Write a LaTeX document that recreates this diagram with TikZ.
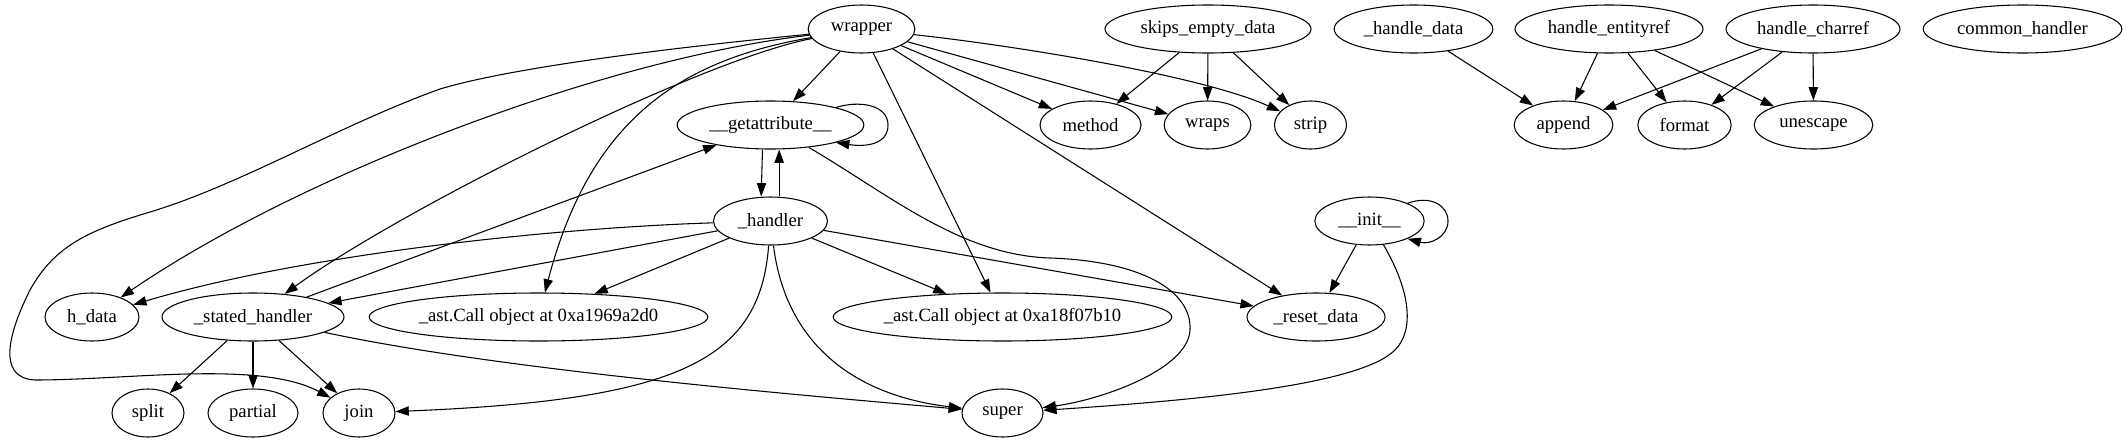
\documentclass[tikz,border=0pt]{standalone}
\usepackage{fontspec}
\setmainfont{Liberation Serif}
\usetikzlibrary{arrows.meta,shapes.geometric}
\begin{document}
\begin{tikzpicture}[x=0.75pt,y=-0.75pt,
  gnode/.style={ellipse,draw,line width=0.8pt,minimum height=36pt,inner sep=0pt,font=\fontsize{14}{16}\selectfont},
  edge/.style={-{Triangle[length=10pt,width=7pt]},line width=0.8pt}]
\useasboundingbox (0,0) rectangle (2127,443);
% row 1
\node[gnode,minimum width=80pt] (wr) at (861.5,29) {wrapper};
\node[gnode,minimum width=154.5pt] (sk) at (1208,29) {skips\_empty\_data};
\node[gnode,minimum width=119pt] (hdd) at (1413.5,29) {\_handle\_data};
\node[gnode,minimum width=141pt] (he) at (1609,29) {handle\_entityref};
\node[gnode,minimum width=130.5pt] (hc) at (1813,29) {handle\_charref};
\node[gnode,minimum width=149pt] (ch) at (2022.5,29) {common\_handler};
% row 2
\node[gnode,minimum width=140pt] (ga) at (770.5,125) {\_\_getattribute\_\_};
\node[gnode,minimum width=75.75pt] (me) at (1090.5,125) {method};
\node[gnode,minimum width=65pt] (wp) at (1207.5,125) {wraps};
\node[gnode,minimum width=54pt] (st) at (1310.5,125) {strip};
\node[gnode,minimum width=74pt] (ap) at (1563.5,125) {append};
\node[gnode,minimum width=70pt] (fo) at (1684.5,125) {format};
\node[gnode,minimum width=89pt] (un) at (1813.5,125) {unescape};
% row 3
\node[gnode,minimum width=85.5pt] (hd) at (770.5,221) {\_handler};
\node[gnode,minimum width=82pt] (in) at (1369.5,221) {\_\_init\_\_};
% row 4
\node[gnode,minimum width=70.5pt] (hdat) at (92,317) {h\_data};
\node[gnode,minimum width=136.5pt] (sh) at (253,317) {\_stated\_handler};
\node[gnode,minimum width=254pt] (c1) at (538.5,317) {\_ast.Call object at 0xa1969a2d0};
\node[gnode,minimum width=254pt] (c2) at (1002.5,317) {\_ast.Call object at 0xa18f07b10};
\node[gnode,minimum width=103.5pt] (rd) at (1316,317) {\_reset\_data};
% row 5
\node[gnode,minimum width=54pt] (sp) at (148,413) {split};
\node[gnode,minimum width=67.5pt] (pa) at (253,413) {partial};
\node[gnode,minimum width=54pt] (jo) at (359,413) {join};
\node[gnode,minimum width=60.75pt] (su) at (1002.5,413) {super};
% wrapper edges
\draw[edge] (wr) -- (ga);
\draw[edge] (wr) -- (me);
\draw[edge] (wr) -- (wp);
\draw[edge] (wr) .. controls (1010,45) and (1200,75) .. (st);
\draw[edge] (wr) .. controls (600,60) and (300,175) .. (hdat);
\draw[edge] (wr) .. controls (700,60) and (400,210) .. (sh);
\draw[edge] (wr) .. controls (680,60) and (590,120) .. (c1);
\draw[edge] (wr) -- (c2);
\draw[edge] (wr) -- (rd);
\draw[edge] (wr) .. controls (700,45) and (520,65) .. (440,89)
  .. controls (340,125) and (240,185) .. (150,212)
  .. controls (90,230) and (55,245) .. (30,290)
  .. controls (10,330) and (-5,378) .. (35,380)
  .. controls (130,380) and (260,360) .. (jo);
% __getattribute__ edges
\draw[edge] (ga.15) .. controls (860,100) and (888,105) .. (888,125)
  .. controls (888,145) and (865,147) .. (ga.-15);
\draw[edge] ([xshift=-6pt]ga.south) -- ([xshift=-7pt]hd.north);
\draw[edge] (ga) .. controls (890,195) and (960,255) .. (1050,258)
  .. controls (1140,261) and (1192,290) .. (1190,330)
  .. controls (1188,370) and (1100,400) .. (su);
% _handler edges
\draw[edge] ([xshift=6.5pt]hd.north) -- ([xshift=6.5pt]ga.south);
\draw[edge] (hd) .. controls (550,228) and (300,255) .. (hdat);
\draw[edge] (hd) -- (sh);
\draw[edge] (hd) -- (c1);
\draw[edge] (hd) -- (c2);
\draw[edge] (hd) -- (rd);
\draw[edge] (hd) .. controls (760,360) and (680,400) .. (jo);
\draw[edge] (hd) .. controls (785,340) and (850,395) .. (su);
% _stated_handler edges
\draw[edge] (sh) -- (ga);
\draw[edge] (sh) -- (sp);
\draw[edge] (sh) -- (pa);
\draw[edge] (sh) -- (jo);
\draw[edge] (sh) .. controls (500,370) and (800,395) .. (su);
% __init__ edges
\draw[edge] (in.25) .. controls (1430,195) and (1448,205) .. (1448,221)
  .. controls (1448,237) and (1430,245) .. (in.-25);
\draw[edge] (in) -- (rd);
\draw[edge] (in) .. controls (1410,290) and (1415,330) .. (1395,350)
  .. controls (1360,385) and (1200,400) .. (su);
% other sources
\draw[edge] (sk) -- (me);
\draw[edge] (sk) -- (wp);
\draw[edge] (sk) -- (st);
\draw[edge] (hdd) -- (ap);
\draw[edge] (he) -- (ap);
\draw[edge] (he) -- (fo);
\draw[edge] (he) -- (un);
\draw[edge] (hc) -- (ap);
\draw[edge] (hc) -- (fo);
\draw[edge] (hc) -- (un);
\end{tikzpicture}
\end{document}
